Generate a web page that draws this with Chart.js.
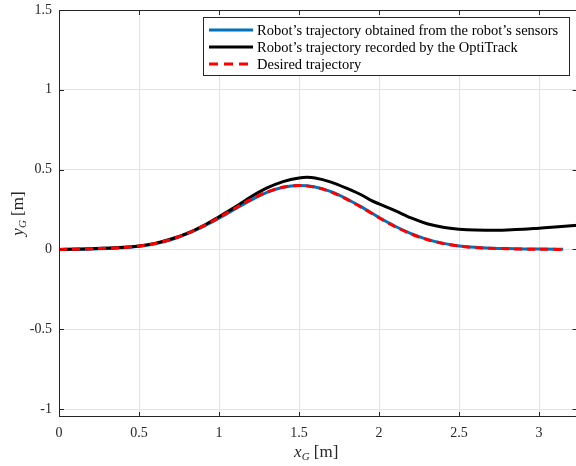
<!DOCTYPE html>
<html>
<head>
<meta charset="utf-8">
<script src="https://cdn.jsdelivr.net/npm/chart.js@4/dist/chart.umd.min.js"></script>
<style>
    body { margin: 0; overflow: hidden; background: #fff; }
    #wrap { width: 580px; height: 466px; }
</style>
</head>
<body>
<div id="wrap"><canvas id="trajChart" width="580" height="466"></canvas></div>
<script>
// 목표 궤적 (x, y) [m]
const xDesired = [0, 0.2, 0.4, 0.5, 0.6, 0.7, 0.8, 0.9, 1.0, 1.1, 1.2, 1.3, 1.4, 1.5, 1.6, 1.7, 1.8, 1.9, 2.0, 2.1, 2.2, 2.3, 2.4, 2.5, 2.6, 2.7, 2.8, 2.9, 3.0, 3.15];
const yDesired = [0, 0.004, 0.012, 0.021, 0.037, 0.063, 0.1, 0.146, 0.2, 0.258, 0.313, 0.36, 0.39, 0.4, 0.39, 0.36, 0.313, 0.258, 0.198, 0.143, 0.097, 0.062, 0.037, 0.021, 0.012, 0.007, 0.004, 0.002, 0.001, 0];
// 로봇 센서로 얻은 궤적
const ySensors = [0, 0.003, 0.011, 0.019, 0.035, 0.06, 0.097, 0.142, 0.195, 0.253, 0.309, 0.357, 0.389, 0.4, 0.391, 0.362, 0.316, 0.26, 0.2, 0.145, 0.099, 0.063, 0.038, 0.022, 0.013, 0.008, 0.005, 0.003, 0.002, 0.001];
// OptiTrack 으로 기록한 궤적
const xOpti = [0, 0.2, 0.4, 0.5, 0.6, 0.7, 0.8, 0.9, 1.0, 1.1, 1.2, 1.3, 1.4, 1.5, 1.55, 1.6, 1.7, 1.8, 1.9, 1.95, 2.0, 2.1, 2.2, 2.3, 2.4, 2.5, 2.6, 2.7, 2.8, 2.9, 3.0, 3.1, 3.25];
const yOpti = [0, 0.004, 0.013, 0.022, 0.038, 0.065, 0.1, 0.148, 0.205, 0.265, 0.33, 0.385, 0.425, 0.448, 0.452, 0.448, 0.422, 0.382, 0.336, 0.307, 0.285, 0.243, 0.197, 0.161, 0.139, 0.127, 0.121, 0.12, 0.122, 0.126, 0.133, 0.14, 0.152];

const xTicks = [0, 0.5, 1, 1.5, 2, 2.5, 3];
const yTicks = [-1, -0.5, 0, 0.5, 1, 1.5];

const legendNames = [
    'Robot\u2019s trajectory obtained from the robot\u2019s sensors',
    'Robot\u2019s trajectory recorded by the OptiTrack',
    'Desired trajectory'
];

const BLUE = '#0072BD';
const AXIS = '#262626';
const SERIF = '"Liberation Serif", "DejaVu Serif", serif';

function toPoints(xs, ys) {
    return xs.map((x, i) => ({ x: x, y: ys[i] }));
}

// 스케일 자동 여백 제거 (플롯 영역 위치 고정)
function noPad(s) {
    s.paddingTop = 0; s.paddingBottom = 0;
    s.paddingLeft = 0; s.paddingRight = 0;
}

// 박스, 안쪽 눈금, 범례, 축 제목
const decorations = {
    id: 'decorations',
    afterDraw(chart) {
        const ctx = chart.ctx;
        const a = chart.chartArea;
        const sx = chart.scales.x, sy = chart.scales.y;
        ctx.save();

        // 박스
        ctx.strokeStyle = AXIS;
        ctx.lineWidth = 1;
        ctx.strokeRect(a.left + 0.5, a.top + 0.5, a.right - a.left - 1, a.bottom - a.top - 1);

        // 안쪽 눈금
        ctx.beginPath();
        xTicks.forEach(v => {
            const px = Math.round(sx.getPixelForValue(v)) + 0.5;
            ctx.moveTo(px, a.bottom); ctx.lineTo(px, a.bottom - 5);
            ctx.moveTo(px, a.top); ctx.lineTo(px, a.top + 5);
        });
        yTicks.forEach(v => {
            const py = Math.round(sy.getPixelForValue(v)) + 0.5;
            ctx.moveTo(a.left, py); ctx.lineTo(a.left + 5, py);
            ctx.moveTo(a.right, py); ctx.lineTo(a.right - 5, py);
        });
        ctx.stroke();

        // 범례
        const bx = 203, by = 17, bw = 366, bh = 58;
        ctx.fillStyle = '#fff';
        ctx.fillRect(bx, by, bw, bh);
        ctx.strokeStyle = AXIS;
        ctx.strokeRect(bx + 0.5, by + 0.5, bw, bh);
        const styles = [
            { color: BLUE, dash: [] },
            { color: '#000', dash: [] },
            { color: '#ff0000', dash: [9, 6] }
        ];
        ctx.font = '14.5px ' + SERIF;
        ctx.textBaseline = 'middle';
        legendNames.forEach((name, i) => {
            const ly = by + 13 + i * 17;
            ctx.beginPath();
            ctx.strokeStyle = styles[i].color;
            ctx.lineWidth = 3;
            ctx.setLineDash(styles[i].dash);
            ctx.moveTo(209, ly); ctx.lineTo(253, ly);
            ctx.stroke();
            ctx.setLineDash([]);
            ctx.fillStyle = '#000';
            ctx.fillText(name, 257, ly + 1);
        });

        // 축 제목
        ctx.fillStyle = AXIS;
        ctx.textBaseline = 'alphabetic';
        function axisTitle(sym, cx, cy) {
            ctx.font = 'italic 17px ' + SERIF;
            const w1 = ctx.measureText(sym).width;
            ctx.font = 'italic 11px ' + SERIF;
            const w2 = ctx.measureText('G').width;
            ctx.font = '17px ' + SERIF;
            const w3 = ctx.measureText(' [m]').width;
            let x0 = cx - (w1 + w2 + w3) / 2;
            ctx.font = 'italic 17px ' + SERIF;
            ctx.fillText(sym, x0, cy);
            ctx.font = 'italic 11px ' + SERIF;
            ctx.fillText('G', x0 + w1, cy + 3);
            ctx.font = '17px ' + SERIF;
            ctx.fillText(' [m]', x0 + w1 + w2, cy);
        }
        axisTitle('x', (a.left + a.right) / 2 - 2, 457);
        ctx.translate(23, (a.top + a.bottom) / 2);
        ctx.rotate(-Math.PI / 2);
        axisTitle('y', 0, 0);

        ctx.restore();
    }
};

var ctx = document.getElementById('trajChart').getContext('2d');

var trajChart = new Chart(ctx, {
    type: 'line',
    data: {
        datasets: [
            {
                label: legendNames[0],
                data: toPoints(xDesired, ySensors),
                borderColor: BLUE,
                borderWidth: 3,
                order: 3
            },
            {
                label: legendNames[1],
                data: toPoints(xOpti, yOpti),
                borderColor: '#000',
                borderWidth: 3,
                order: 2
            },
            {
                label: legendNames[2],
                data: toPoints(xDesired, yDesired),
                borderColor: '#ff0000',
                borderWidth: 3,
                borderDash: [8, 5],
                order: 1
            }
        ]
    },
    options: {
        responsive: false,
        animation: false,
        parsing: false,
        elements: {
            point: { radius: 0 },
            line: { tension: 0.4, cubicInterpolationMode: 'monotone', fill: false }
        },
        layout: { padding: { left: 0, top: 10, right: 2.5, bottom: 0 } },
        plugins: {
            legend: { display: false },
            tooltip: { enabled: false }
        },
        scales: {
            x: {
                type: 'linear',
                min: 0,
                max: 3.24,
                afterFit: s => { s.height = 49; noPad(s); },
                afterBuildTicks: s => { s.ticks = xTicks.map(v => ({ value: v })); },
                grid: { color: '#e3e3e3', drawTicks: false },
                border: { display: false },
                ticks: {
                    padding: 8,
                    color: AXIS,
                    font: { family: SERIF, size: 14 },
                    callback: v => String(v)
                }
            },
            y: {
                type: 'linear',
                min: -1.05,
                max: 1.5,
                afterFit: s => { s.width = 59; noPad(s); },
                afterBuildTicks: s => { s.ticks = yTicks.map(v => ({ value: v })); },
                grid: { color: '#e3e3e3', drawTicks: false },
                border: { display: false },
                ticks: {
                    padding: 7,
                    color: AXIS,
                    font: { family: SERIF, size: 14 },
                    callback: v => String(v)
                }
            }
        }
    },
    plugins: [decorations]
});
</script>
</body>
</html>
